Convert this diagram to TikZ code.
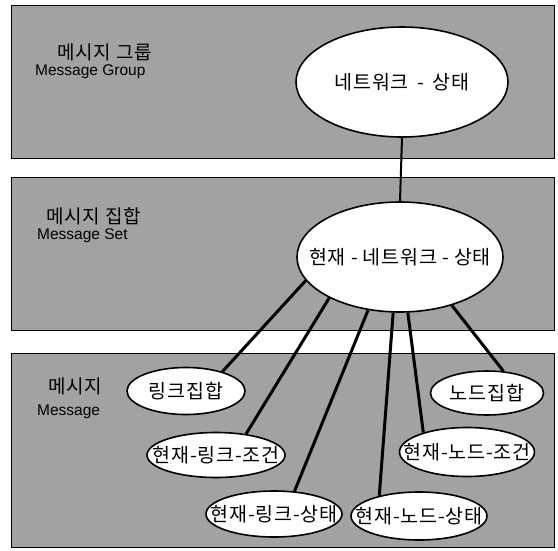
\documentclass[tikz,border=0pt]{standalone}
\usepackage{fontspec}
\newfontfamily\kofont{Noto Sans CJK KR}[LetterSpace=4.0]
\setsansfont{Liberation Sans}
\usepackage{tikz}
\usetikzlibrary{positioning}
\usetikzlibrary{shapes.geometric}
\definecolor{bandgray}{RGB}{162,162,162}

\begin{document}
\begin{tikzpicture}[x=1pt, y=-1pt,
                          band/.style={draw=black, fill=bandgray, line width=1pt},
                          msgnode/.style={ellipse, draw, fill=white, line width=1.6pt, inner xsep=-40pt, inner ysep=-10pt, font=\kofont\fontsize{19.5}{21}\selectfont},
                          bigmsgnode/.style={msgnode, minimum height=110pt},
                          bandtitle/.style={font=\kofont\fontsize{19}{21}\selectfont, inner sep=0pt, anchor=west},
                          bandsub/.style={font=\sffamily\fontsize{15.5}{17}\selectfont, inner sep=0pt, anchor=west},
                          link/.style={line width=3pt},
                      ]
                      \useasboundingbox (0,0) rectangle (558,550);
                      %Bands
                      \draw[band] (11,5) rectangle (554,158);
                      \draw[band] (11,177) rectangle (554,330);
                      \draw[band] (11,353) rectangle (554,547);

                      %Band labels
                      \node[bandtitle] (grp_ko) at (57,52)  {메시지 그룹};
                      \node[bandsub]   (grp_en) at (35,72)  {Message Group};
                      \node[bandtitle] (set_ko) at (46,216) {메시지 집합};
                      \node[bandsub]   (set_en) at (37,236) {Message Set};
                      \node[bandtitle] (msg_ko) at (48,386) {메시지};
                      \node[bandsub]   (msg_en) at (37,412) {Message};

                      %Nodes
                      \node[bigmsgnode, minimum width=212pt] (net)     at (402,82)  {네트워크 \,-\, 상태};
                      \node[bigmsgnode, minimum width=206pt] (cur_net) at (400,257) {현재 - 네트워크 - 상태};
                      \node[msgnode, minimum width=118pt, minimum height=47pt] (links) at (186,391) {링크집합};
                      \node[msgnode, minimum width=138pt, minimum height=45pt] (clc)   at (216,455) {현재-링크-조건};
                      \node[msgnode, minimum width=136pt, minimum height=46pt] (cls)   at (274,514) {현재-링크-상태};
                      \node[msgnode, minimum width=136pt, minimum height=48pt] (cns)   at (419,516) {현재-노드-상태};
                      \node[msgnode, minimum width=135pt, minimum height=49pt] (cnc)   at (467,452) {현재-노드-조건};
                      \node[msgnode, minimum width=113pt, minimum height=44pt] (nodes) at (487,393) {노드집합};

                      %Lines
                      \draw[line width=2pt] (net.south) -- (cur_net.north);
                      \draw[link] (cur_net.194) -- (links.28);
                      \draw[link] (cur_net.210) -- (clc.35);
                      \draw[link] (cur_net.239) -- (cls.48);
                      \draw[link] (cur_net.263) -- (cns.153);
                      \draw[link] (cur_net.278) -- (cnc.156);
                      \draw[link] (cur_net.317) -- (nodes.53);
                  \end{tikzpicture}
\end{document}
